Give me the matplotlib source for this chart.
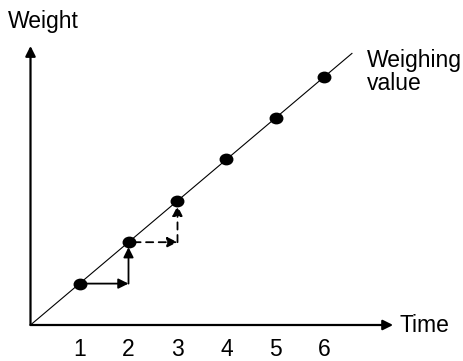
import matplotlib
matplotlib.use("Agg")
import matplotlib.pyplot as plt
from matplotlib.patches import FancyArrowPatch
from matplotlib.path import Path
from matplotlib.transforms import Affine2D

times = [1, 2, 3, 4, 5, 6]
weights = [1, 2, 3, 4, 5, 6]
tick_labels = ["1", "2", "3", "4", "5", "6"]
x_label = "Time"
y_label = "Weight"
line_label = "Weighing\nvalue"

plt.rcParams['font.family'] = ['Liberation Sans', 'DejaVu Sans']

W, H = 463, 361
fig = plt.figure(figsize=(W / 100, H / 100), dpi=100)
ax = fig.add_axes([0, 0, 1, 1])
ox, oy, sx, sy = 30.5, 325.0, 49.0, 41.4
ax.set_xlim((0 - ox) / sx, (W - ox) / sx)
ax.set_ylim((oy - H) / sy, oy / sy)
ax.axis('off')

fs = 16.5

# axes with arrows
ax.add_patch(FancyArrowPatch((0, 0), (0, 6.74), arrowstyle='-|>', mutation_scale=15,
                             lw=1.6, color='black', shrinkA=0, shrinkB=0))
ax.add_patch(FancyArrowPatch((0, 0), (7.40, 0), arrowstyle='-|>', mutation_scale=15,
                             lw=1.6, color='black', shrinkA=0, shrinkB=0))

# diagonal weighing value line
ax.plot([0, 6.56], [0, 6.56], color='black', lw=0.8)

# points (slightly elliptic)
ell = Path.unit_circle().transformed(Affine2D().scale(1.2, 1.0))
ax.plot(times, weights, linestyle='none', marker=ell, color='black', ms=9)

# step arrows
def step(i, ls):
    x0, y0 = times[i], weights[i]
    x1, y1 = times[i + 1], weights[i + 1]
    ax.add_patch(FancyArrowPatch((x0 + 0.1, y0), (x1, y0), arrowstyle='-|>', mutation_scale=15,
                                 lw=1.3, color='black', linestyle=ls, shrinkA=0, shrinkB=0))
    ax.add_patch(FancyArrowPatch((x1, y0), (x1, y1 - 0.12), arrowstyle='-|>', mutation_scale=15,
                                 lw=1.3, color='black', linestyle=ls, shrinkA=0, shrinkB=0))

step(0, '-')
step(1, (0, (4, 3)))

# tick labels
for t, lab in zip(times, tick_labels):
    ax.text(t, -0.58, lab, ha='center', va='center', fontsize=fs)

ax.text(-0.46, 7.32, y_label, ha='left', va='center', fontsize=fs)
ax.text(7.54, 0.0, x_label, ha='left', va='center', fontsize=fs)
ax.text(6.87, 6.11, line_label, ha='left', va='center', fontsize=fs, linespacing=0.95)

fig.savefig("out.png", dpi=100)
